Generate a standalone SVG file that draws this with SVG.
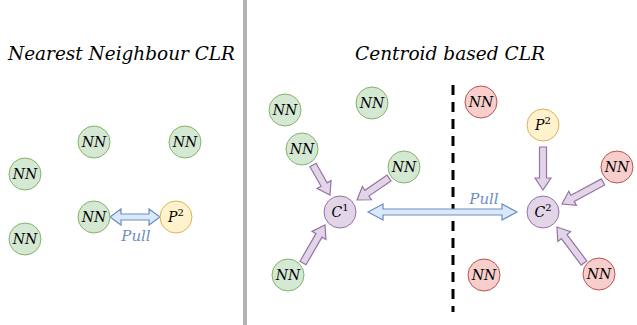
<svg xmlns="http://www.w3.org/2000/svg" width="637" height="325" viewBox="0 0 637 325">
  <style>
    .title { font-family: "DejaVu Serif", "Liberation Serif", "Times New Roman", serif; font-style: italic; font-size: 19px; fill: #000; }
    .lbl { font-family: "DejaVu Serif", "Liberation Serif", "Times New Roman", serif; font-style: italic; font-size: 14px; fill: #000; text-anchor: middle; }
    .sup { font-size: 10px; font-style: normal; }
    .pull { font-family: "DejaVu Serif", "Liberation Serif", "Times New Roman", serif; font-style: italic; font-size: 15px; fill: #6c8ebf; text-anchor: middle; }
    .green { fill: #d5e8d4; stroke: #82b366; stroke-width: 1; }
    .red { fill: #f8cecc; stroke: #b85450; stroke-width: 1; }
    .yellow { fill: #fff2cc; stroke: #d6b656; stroke-width: 1; }
    .purple { fill: #e1d5e7; stroke: #9673a6; stroke-width: 1; }
    .parrow { fill: #e1d5e7; stroke: #9673a6; stroke-width: 1.2; stroke-linejoin: miter; }
    .barrow { fill: #dae8fc; stroke: #6c8ebf; stroke-width: 1.2; stroke-linejoin: miter; }
  </style>

  <rect width="637" height="325" fill="#ffffff"/>

  <!-- panel separator -->
  <rect x="243" y="0" width="4" height="325" fill="#b3b3b3"/>

  <!-- class boundary -->
  <line x1="453" y1="85" x2="453" y2="312" stroke="#000" stroke-width="3" stroke-dasharray="10,7"/>

  <text class="title" x="8" y="60" textLength="227" lengthAdjust="spacingAndGlyphs">Nearest Neighbour CLR</text>
  <text class="title" x="355" y="60" textLength="190" lengthAdjust="spacingAndGlyphs">Centroid based CLR</text>

  <g id="connectors">
    <!-- left: pull between neighbour and anchor -->
    <path class="barrow" d="M110,217 L121,209 L121,214 L149,214 L149,209 L160,217 L149,225 L149,220 L121,220 L121,225 Z"/>
    <text class="pull" x="136" y="241">Pull</text>

    <!-- right: pull between centroids -->
    <path class="barrow" d="M368,212 L383,204 L383,209 L502,209 L502,204 L517,212 L502,220 L502,215 L383,215 L383,220 Z"/>
    <text class="pull" x="484" y="204">Pull</text>

    <!-- purple block arrows towards centroids -->
    <g transform="translate(313,165) rotate(60.5)">
      <path class="parrow" d="M0,-3.5 L22.5,-3.5 L22.5,-8 L34.5,0 L22.5,8 L22.5,3.5 L0,3.5 Z"/>
    </g>
    <g transform="translate(389,178) rotate(145.5)">
      <path class="parrow" d="M0,-3.5 L26.8,-3.5 L26.8,-8 L38.8,0 L26.8,8 L26.8,3.5 L0,3.5 Z"/>
    </g>
    <g transform="translate(303,263) rotate(-59.9)">
      <path class="parrow" d="M0,-3.5 L31.9,-3.5 L31.9,-8 L43.9,0 L31.9,8 L31.9,3.5 L0,3.5 Z"/>
    </g>
    <g transform="translate(543,147) rotate(90)">
      <path class="parrow" d="M0,-3.5 L31,-3.5 L31,-8 L43,0 L31,8 L31,3.5 L0,3.5 Z"/>
    </g>
    <g transform="translate(603,182) rotate(151.8)">
      <path class="parrow" d="M0,-3.5 L34.5,-3.5 L34.5,-8 L46.5,0 L34.5,8 L34.5,3.5 L0,3.5 Z"/>
    </g>
    <g transform="translate(584,263) rotate(-126.9)">
      <path class="parrow" d="M0,-3.5 L33,-3.5 L33,-8 L45,0 L33,8 L33,3.5 L0,3.5 Z"/>
    </g>
  </g>

  <!-- left panel nodes -->
  <g id="l-nn1"><circle class="green" cx="94" cy="142" r="16"/><text class="lbl" x="94" y="147">NN</text></g>
  <g id="l-nn2"><circle class="green" cx="185" cy="142" r="16"/><text class="lbl" x="185" y="147">NN</text></g>
  <g id="l-nn3"><circle class="green" cx="25" cy="174" r="16"/><text class="lbl" x="25" y="179">NN</text></g>
  <g id="l-nn4"><circle class="green" cx="94" cy="217" r="16"/><text class="lbl" x="94" y="222">NN</text></g>
  <g id="l-p2"><circle class="yellow" cx="176" cy="217" r="16"/><text class="lbl" x="176" y="222">P<tspan class="sup" dy="-6">2</tspan></text></g>
  <g id="l-nn5"><circle class="green" cx="25" cy="239" r="16"/><text class="lbl" x="25" y="244">NN</text></g>

  <!-- right panel: class 1 -->
  <g id="r-nn1"><circle class="green" cx="285" cy="110" r="16"/><text class="lbl" x="285" y="115">NN</text></g>
  <g id="r-nn2"><circle class="green" cx="372" cy="103" r="16"/><text class="lbl" x="372" y="108">NN</text></g>
  <g id="r-nn3"><circle class="green" cx="302" cy="149" r="16"/><text class="lbl" x="302" y="154">NN</text></g>
  <g id="r-nn4"><circle class="green" cx="404" cy="167" r="16"/><text class="lbl" x="404" y="172">NN</text></g>
  <g id="r-c1"><circle class="purple" cx="340" cy="212" r="16"/><text class="lbl" x="340" y="217">C<tspan class="sup" dy="-6">1</tspan></text></g>
  <g id="r-nn5"><circle class="green" cx="288" cy="275" r="16"/><text class="lbl" x="288" y="280">NN</text></g>

  <!-- right panel: class 2 -->
  <g id="r-nn6"><circle class="red" cx="481" cy="102" r="16"/><text class="lbl" x="481" y="107">NN</text></g>
  <g id="r-p2"><circle class="yellow" cx="543" cy="125" r="16"/><text class="lbl" x="543" y="130">P<tspan class="sup" dy="-6">2</tspan></text></g>
  <g id="r-nn7"><circle class="red" cx="617" cy="167" r="16"/><text class="lbl" x="617" y="172">NN</text></g>
  <g id="r-c2"><circle class="purple" cx="543" cy="212" r="16"/><text class="lbl" x="543" y="217">C<tspan class="sup" dy="-6">2</tspan></text></g>
  <g id="r-nn8"><circle class="red" cx="484" cy="275" r="16"/><text class="lbl" x="484" y="280">NN</text></g>
  <g id="r-nn9"><circle class="red" cx="599" cy="274" r="16"/><text class="lbl" x="599" y="279">NN</text></g>
</svg>
